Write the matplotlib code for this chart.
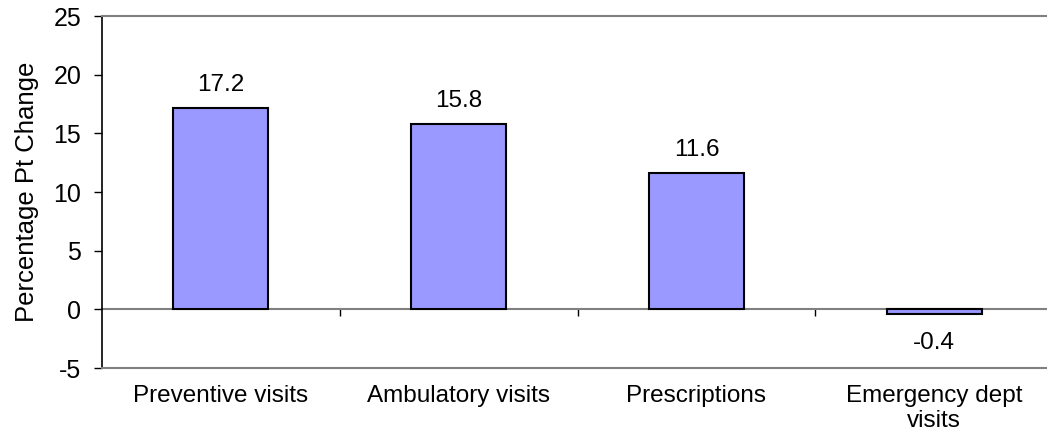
import matplotlib
matplotlib.use("Agg")
import matplotlib.pyplot as plt
import numpy as np

categories = ["Preventive visits", "Ambulatory visits", "Prescriptions", "Emergency dept\nvisits"]
values = [17.2, 15.8, 11.6, -0.4]
value_labels = ["17.2", "15.8", "11.6", "-0.4"]
yticks = [-5, 0, 5, 10, 15, 20, 25]

plt.rcParams['font.family'] = ['Liberation Sans', 'DejaVu Sans']

W, H = 1047, 438
fig = plt.figure(figsize=(W/100, H/100), dpi=100)
left, right, top, bottom = 102, 1053, 16, 368
ax = fig.add_axes([left/W, 1 - bottom/H, (right-left)/W, (bottom-top)/H])

x = np.arange(len(categories))
bars = ax.bar(x, values, width=0.40, color='#9999FF', edgecolor='black', linewidth=1.5, zorder=3)

ax.set_xlim(-0.5, len(categories) - 0.5)
ax.set_ylim(-5, 25)
ax.set_yticks(yticks)
ax.set_yticklabels([str(t) for t in yticks], fontsize=18)
ax.tick_params(axis='y', direction='out', length=6, width=1, color='black', pad=9)

ax.set_xticks(x)
ax.set_xticklabels(categories, fontsize=17.5, linespacing=1.2)
ax.tick_params(axis='x', length=0, pad=12)

for s in ['top', 'bottom']:
    ax.spines[s].set_color('#808080')
    ax.spines[s].set_linewidth(1.5)
ax.spines['right'].set_visible(False)
ax.spines['left'].set_color('black')
ax.spines['left'].set_linewidth(1.2)

# zero axis with category-boundary ticks
sec = ax.secondary_xaxis(5/30)
sec.set_xticks(np.arange(len(categories) - 1) + 0.5)
sec.set_xticklabels([])
sec.tick_params(axis='x', direction='out', length=5, width=1, color='black')
sec.spines['bottom'].set_color('#808080')
sec.spines['bottom'].set_linewidth(1.5)

ax.set_ylabel("Percentage Pt Change", fontsize=18.5, labelpad=10)

for xi, v, lab in zip(x, values, value_labels):
    off = 17 if v >= 0 else -35
    ax.annotate(lab, (xi, v), xytext=(0, off), textcoords='offset pixels',
                ha='center', va='baseline', fontsize=17.5)

fig.savefig("out.png", dpi=100)
